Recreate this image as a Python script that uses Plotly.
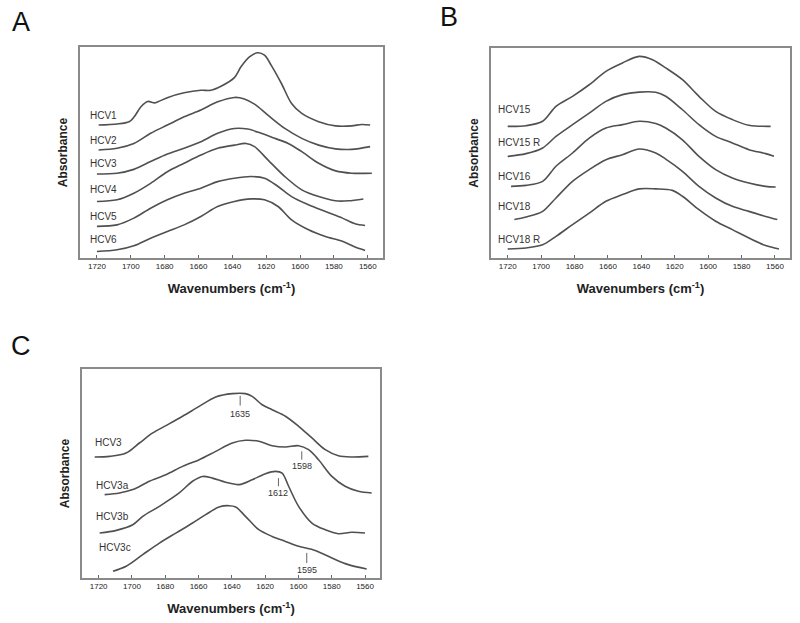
import plotly.graph_objects as go

# ---------------- Panel A ----------------
a_names = ["HCV1", "HCV2", "HCV3", "HCV4", "HCV5", "HCV6"]
a_x = {
    "HCV1": [1719, 1701, 1698, 1694, 1690, 1686, 1684, 1678, 1668.5, 1658.6, 1652.7, 1646.7, 1638.8, 1634.9, 1629.9, 1625, 1621, 1617, 1611, 1605, 1599, 1589, 1579, 1569.5, 1563.6, 1558.6],
    "HCV2": [1719, 1708.1, 1698.2, 1688.3, 1678.4, 1668.5, 1658.6, 1648.7, 1638.8, 1632.9, 1626.9, 1619, 1609, 1599, 1589, 1579, 1569.5, 1558.6],
    "HCV3": [1720, 1708.1, 1698.2, 1688.3, 1678.4, 1668.5, 1658.6, 1648.7, 1638.8, 1630.9, 1623, 1615, 1607, 1599, 1589, 1579, 1569.5, 1557.6],
    "HCV4": [1720, 1708.1, 1698.2, 1688.3, 1678.4, 1668.5, 1658.6, 1648.7, 1638.8, 1631.9, 1626.9, 1619, 1609, 1599, 1589, 1579, 1571.5, 1562.6],
    "HCV5": [1720, 1708.1, 1698.2, 1688.3, 1678.4, 1668.5, 1658.6, 1648.7, 1638.8, 1628.9, 1621, 1613, 1605, 1595, 1585, 1575, 1567.5, 1561.6],
    "HCV6": [1720, 1708.1, 1698.2, 1688.3, 1678.4, 1668.5, 1658.6, 1648.7, 1638.8, 1628.9, 1621, 1613, 1605, 1595, 1585, 1575, 1567.5, 1561.6],
}
a_y = {
    "HCV1": [63.0, 64.6, 66.9, 71.7, 74.2, 73.5, 74.0, 76.1, 78.3, 79.5, 79.5, 81.4, 85.5, 90.6, 95.3, 97.3, 96.1, 91.3, 82.7, 73.2, 68.5, 64.6, 62.6, 62.6, 63.3, 63.0],
    "HCV2": [51.2, 52.0, 54.3, 59.1, 63.0, 66.9, 70.1, 74.0, 76.1, 75.4, 72.9, 67.7, 61.4, 56.7, 53.5, 51.7, 51.5, 52.8],
    "HCV3": [39.8, 40.2, 42.0, 45.7, 49.3, 52.0, 55.1, 59.1, 61.4, 61.1, 59.1, 56.7, 54.3, 50.4, 44.9, 41.3, 40.2, 40.2],
    "HCV4": [26.8, 27.6, 30.7, 35.4, 40.9, 44.9, 48.8, 52.0, 53.5, 54.3, 52.8, 46.5, 38.6, 32.3, 29.1, 27.1, 27.1, 28.0],
    "HCV5": [15.0, 15.7, 18.9, 23.6, 27.6, 30.7, 33.1, 36.2, 37.8, 38.6, 37.8, 33.9, 29.1, 25.2, 22.0, 18.9, 16.2, 15.4],
    "HCV6": [3.1, 3.9, 5.8, 9.4, 12.6, 15.7, 19.7, 24.4, 26.8, 28.0, 27.6, 24.4, 18.1, 13.4, 10.2, 7.9, 5.2, 3.6],
}
a_label_x = [1725.5] * 6
a_label_y = [67.7, 55.9, 44.9, 32.3, 19.7, 8.7]

# ---------------- Panel B ----------------
b_names = ["HCV15", "HCV15 R", "HCV16", "HCV18", "HCV18 R"]
b_x = {
    "HCV15": [1720, 1709, 1699.1, 1691.1, 1681.2, 1671.2, 1661.2, 1651.3, 1641.3, 1633.3, 1625.4, 1615.4, 1605.5, 1595.5, 1585.5, 1575.6, 1562.6],
    "HCV15 R": [1720, 1709, 1699.1, 1691.1, 1681.2, 1671.2, 1661.2, 1651.3, 1641.3, 1631.4, 1625.4, 1615.4, 1605.5, 1595.5, 1585.5, 1575.6, 1565.6, 1560.6],
    "HCV16": [1718, 1709, 1699.1, 1691.1, 1681.2, 1671.2, 1661.2, 1651.3, 1641.3, 1631.4, 1625.4, 1615.4, 1605.5, 1595.5, 1585.5, 1575.6, 1565.6, 1559.6],
    "HCV18": [1716, 1709, 1699.1, 1691.1, 1681.2, 1671.2, 1661.2, 1651.3, 1641.3, 1631.4, 1625.4, 1615.4, 1605.5, 1595.5, 1585.5, 1575.6, 1565.6, 1558.6],
    "HCV18 R": [1720, 1709, 1699.1, 1691.1, 1681.2, 1671.2, 1661.2, 1651.3, 1641.3, 1631.4, 1621.4, 1615.4, 1605.5, 1595.5, 1585.5, 1575.6, 1565.6, 1557.6],
}
b_y = {
    "HCV15": [62.7, 63.0, 65.1, 72.2, 77.0, 82.5, 88.9, 92.9, 96.0, 94.4, 90.5, 84.9, 77.0, 69.8, 65.9, 63.2, 62.7],
    "HCV15 R": [48.4, 49.7, 52.4, 57.9, 63.5, 69.0, 74.6, 77.8, 79.0, 78.9, 77.0, 70.6, 63.5, 57.9, 54.8, 51.6, 49.7, 48.4],
    "HCV16": [34.1, 34.6, 36.5, 43.7, 50.0, 57.1, 61.9, 63.5, 65.1, 64.0, 61.9, 56.3, 48.4, 42.1, 38.1, 35.7, 34.1, 33.8],
    "HCV18": [18.3, 19.5, 22.2, 28.6, 36.5, 42.1, 46.8, 49.2, 51.9, 50.0, 47.1, 41.3, 34.1, 28.6, 24.6, 22.2, 19.8, 18.3],
    "HCV18 R": [4.3, 4.8, 6.3, 10.3, 15.9, 21.4, 27.0, 30.2, 32.9, 32.9, 32.2, 29.4, 23.0, 17.5, 13.5, 9.5, 5.9, 4.3],
}
b_label_x = [1727] * 5
b_label_y = [70.6, 54.8, 38.9, 24.6, 9.0]

# ---------------- Panel C ----------------
c_names = ["HCV3", "HCV3a", "HCV3b", "HCV3c"]
c_x = {
    "HCV3": [1722.4, 1713.4, 1703.5, 1695.5, 1687.5, 1679.6, 1669.6, 1659.6, 1649.7, 1639.7, 1631.8, 1627.8, 1621.8, 1615.8, 1607.8, 1599.9, 1591.9, 1583.9, 1576.0, 1568.0, 1558.0],
    "HCV3a": [1716.4, 1707.5, 1699.5, 1689.5, 1679.6, 1669.6, 1659.6, 1649.7, 1639.7, 1631.8, 1623.8, 1615.8, 1607.8, 1599.9, 1593.9, 1587.9, 1579.9, 1572.0, 1564.0, 1556.0],
    "HCV3b": [1719.4, 1709.4, 1699.5, 1693.5, 1683.5, 1671.6, 1663.6, 1657.6, 1651.7, 1643.7, 1635.6, 1627.8, 1619.8, 1613.8, 1609.8, 1605.9, 1599.9, 1591.9, 1583.9, 1576.0, 1568.0, 1560.0],
    "HCV3c": [1711.4, 1703.5, 1693.5, 1683.5, 1673.6, 1663.6, 1655.7, 1647.7, 1641.7, 1637.7, 1631.8, 1623.8, 1615.8, 1607.8, 1599.9, 1589.9, 1579.9, 1570.0, 1559.0],
}
c_y = {
    "HCV3": [57.9, 58.2, 59.8, 64.6, 69.4, 72.9, 77.4, 82.1, 86.6, 88.2, 88.2, 86.9, 82.9, 80.5, 77.4, 72.6, 67.0, 61.4, 58.5, 57.9, 58.2],
    "HCV3a": [39.9, 40.7, 42.3, 46.3, 49.4, 53.4, 56.6, 60.6, 64.6, 65.9, 65.4, 63.3, 62.7, 63.3, 61.4, 56.6, 48.6, 43.9, 41.5, 40.7],
    "HCV3b": [21.5, 22.8, 25.5, 29.5, 34.3, 40.7, 46.3, 48.6, 47.8, 45.8, 44.7, 47.0, 49.9, 51.0, 50.2, 43.9, 34.3, 26.3, 23.1, 21.2, 21.9, 21.5],
    "HCV3c": [3.2, 5.6, 11.2, 16.7, 21.5, 26.3, 30.3, 34.0, 34.6, 34.0, 29.5, 23.1, 19.9, 17.5, 15.2, 13.2, 9.6, 6.4, 4.3],
}
c_label_x = [1723.4, 1722.8, 1722.8, 1721]
c_label_y = [64.9, 44.2, 29.5, 14.4]

# Peak markers in panel C
peak_pos = [1635, 1598, 1612, 1595]
peak_top = [87.2, 60.6, 47.8, 12.0]
peak_bot = [82.5, 56.6, 43.9, 7.2]
peak_text_y = [78.6, 53.4, 40.7, 4.0]

tick_vals = [1720, 1700, 1680, 1660, 1640, 1620, 1600, 1580, 1560]

LINE_C = "#505050"
FRAME_C = "#8a8a8a"
TXT_C = "#333333"
FONT = "Liberation Sans, Arial, sans-serif"

fig = go.Figure()

panels = [
    ("x", "y", a_names, a_x, a_y, a_label_x, a_label_y),
    ("x2", "y2", b_names, b_x, b_y, b_label_x, b_label_y),
    ("x3", "y3", c_names, c_x, c_y, c_label_x, c_label_y),
]
annotations = []
shapes = []
for xa, ya, names, xs, ys, lx, ly in panels:
    for i, n in enumerate(names):
        fig.add_trace(go.Scatter(x=xs[n], y=ys[n], mode="lines", xaxis=xa, yaxis=ya,
                                 line=dict(color=LINE_C, width=1.6, shape="spline", smoothing=0.9),
                                 showlegend=False, hoverinfo="skip"))
        annotations.append(dict(x=lx[i], y=ly[i], xref=xa, yref=ya, text=n, showarrow=False,
                                xanchor="left", yanchor="middle",
                                font=dict(size=10, color=TXT_C, family=FONT)))

for i, p in enumerate(peak_pos):
    shapes.append(dict(type="line", xref="x3", yref="y3", x0=p, x1=p, y0=peak_bot[i], y1=peak_top[i],
                       line=dict(color="#666666", width=1)))
    annotations.append(dict(x=p, y=peak_text_y[i], xref="x3", yref="y3", text=str(p), showarrow=False,
                            xanchor="center", yanchor="middle",
                            font=dict(size=9, color=TXT_C, family=FONT)))

for txt, px, py in [("A", 21, 22), ("B", 449, 17), ("C", 21, 346)]:
    annotations.append(dict(x=px / 800, y=1 - py / 623, xref="paper", yref="paper", text=txt,
                            showarrow=False, xanchor="center", yanchor="middle",
                            font=dict(size=27, color="#111111", family=FONT)))

def xaxis(domain, anchor):
    return dict(domain=domain, anchor=anchor, range=[1730, 1551], tickvals=tick_vals,
                showline=True, mirror=True, linecolor=FRAME_C, linewidth=1.5,
                ticks="inside", ticklen=3, tickcolor="#666666", showgrid=False, zeroline=False,
                tickfont=dict(size=8, color="#222222", family=FONT),
                title=dict(text="<b>Wavenumbers (cm<sup>-1</sup>)</b>", standoff=14,
                           font=dict(size=13, color="#222222", family=FONT)))

def yaxis(domain, anchor):
    return dict(domain=domain, anchor=anchor, range=[0, 100], showticklabels=False, ticks="",
                showline=True, mirror=True, linecolor=FRAME_C, linewidth=1.5,
                showgrid=False, zeroline=False,
                title=dict(text="<b>Absorbance</b>", standoff=8,
                           font=dict(size=12, color="#222222", family=FONT)))

fig.update_layout(
    width=800, height=623, margin=dict(l=0, r=0, t=0, b=0),
    paper_bgcolor="white", plot_bgcolor="white",
    xaxis=xaxis([80 / 800, 383 / 800], "y"),
    yaxis=yaxis([1 - 258 / 623, 1 - 47 / 623], "x"),
    xaxis2=xaxis([491 / 800, 790 / 800], "y2"),
    yaxis2=yaxis([1 - 258 / 623, 1 - 48 / 623], "x2"),
    xaxis3=xaxis([82 / 800, 380 / 800], "y3"),
    yaxis3=yaxis([1 - 578 / 623, 1 - 369 / 623], "x3"),
    annotations=annotations, shapes=shapes,
)

fig.write_html("out.html", config={"displayModeBar": False},
               post_script="document.body.style.margin='0';")
